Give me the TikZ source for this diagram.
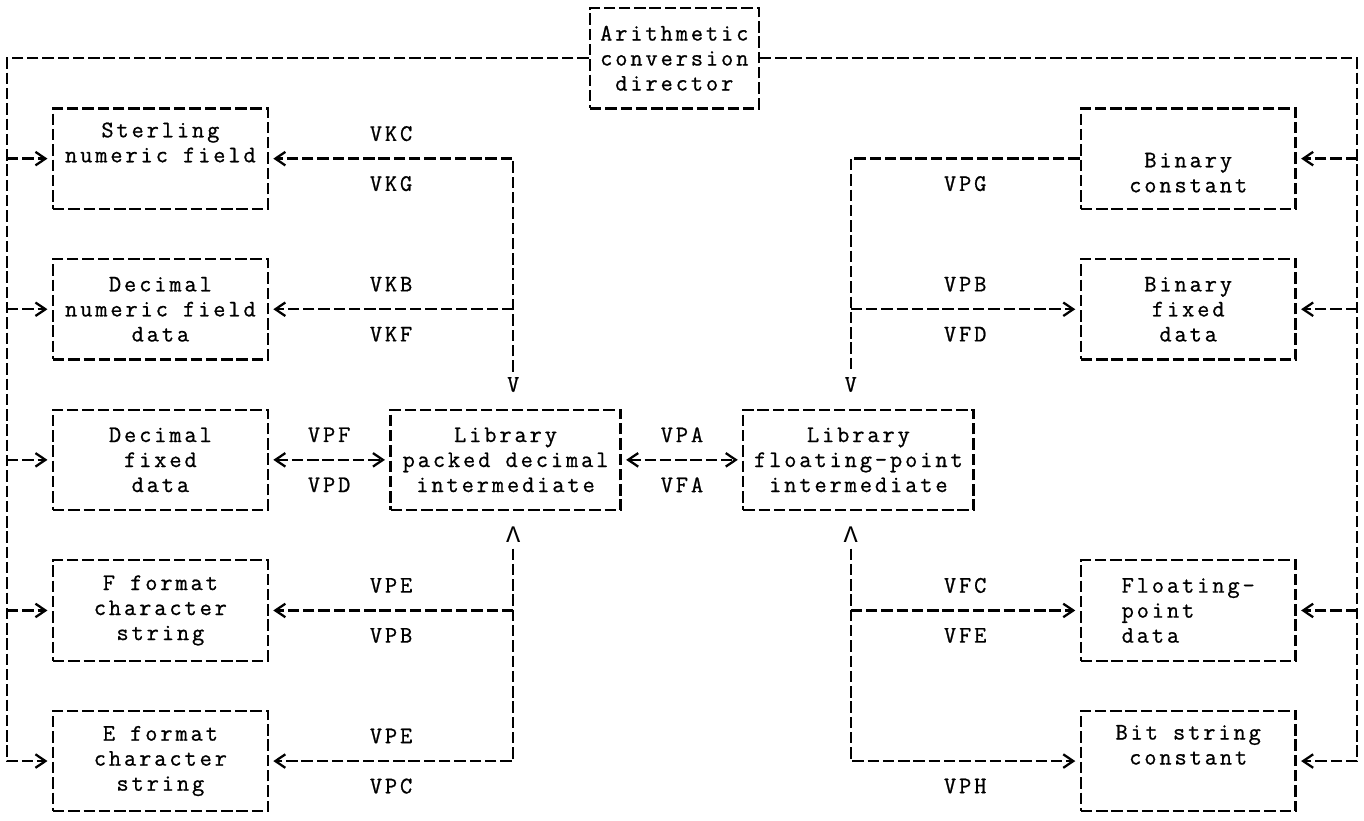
\documentclass[tikz,border=0pt]{standalone}
\usepackage{fontspec}
\setmonofont{Latin Modern Mono}[LetterSpace=12.2,FakeBold=0.8]
\newfontfamily\greekmono{Liberation Mono}
\usetikzlibrary{arrows.meta}

\tikzset{
  flow/.style={line width=1.3pt,dash pattern=on 6.5pt off 2.2pt},
  into/.style={shorten >=2.5pt},
  both/.style={shorten >=2.5pt,shorten <=2.5pt},
  cbox/.style={draw,flow,inner sep=0pt,minimum height=2.008cm,align=center},
  lbl/.style={inner sep=1pt},
  tipglyph/.style={inner sep=3pt},
  lblup/.style={lbl,yshift=14.23pt},
  lbldn/.style={lbl,yshift=-14.23pt},
}

\begin{document}
\begin{tikzpicture}[x=0.3068cm,y=-0.502cm,>={Straight Barb[length=0.2cm,width=0.27cm]},
  font=\ttfamily\fontsize{13.5}{14.23}\selectfont]
\useasboundingbox (-0.456,-0.32) rectangle (88.46,32.35);
\node[cbox,minimum width=3.375cm] (arith) at (43.5,2) {Arithmetic\\conversion\\director};
\node[cbox,minimum width=4.295cm] (sterl) at (10,6) {Sterling\\numeric field\\\strut};
\node[cbox,minimum width=4.295cm] (dnum) at (10,12) {Decimal\\numeric field\\data};
\node[cbox,minimum width=4.295cm] (decf) at (10,18) {Decimal\\fixed\\data};
\node[cbox,minimum width=4.295cm] (ffmt) at (10,24) {F format\\character\\string};
\node[cbox,minimum width=4.295cm] (efmt) at (10,30) {E format\\character\\string};
\node[cbox,minimum width=4.602cm] (packd) at (32.5,18) {Library\\packed decimal\\intermediate};
\node[cbox,minimum width=4.602cm] (fltp) at (55.5,18) {Library\\floating-point\\intermediate};
\node[cbox,minimum width=4.295cm] (binc) at (77,6) {\strut\\Binary\\constant};
\node[cbox,minimum width=4.295cm] (binf) at (77,12) {Binary\\fixed\\data};
\node[cbox,minimum width=4.295cm,align=left] (fltd) at (77,24) {Floating-\\point\\data};
\node[cbox,minimum width=4.295cm] (bits) at (77,30) {Bit string\\constant\\\strut};
% arrow glyphs above and below the intermediates
\node[tipglyph] (vdec) at (33,15) {V};
\node[tipglyph] (updec) at (33,21) {\greekmono Λ};
\node[tipglyph] (vflt) at (55,15) {V};
\node[tipglyph] (upflt) at (55,21) {\greekmono Λ};
\coordinate (lbot) at (0,30);
\coordinate (rbot) at (88,30);
% director trunks
\draw[flow,->,into] (arith) -| (lbot) -- (efmt);
\draw[flow,->,into] (lbot |- sterl) -- (sterl);
\draw[flow,->,into] (lbot |- dnum) -- (dnum);
\draw[flow,->,into] (lbot |- decf) -- (decf);
\draw[flow,->,into] (lbot |- ffmt) -- (ffmt);
\draw[flow,->,into] (arith) -| (rbot) -- (bits);
\draw[flow,->,into] (rbot |- binc) -- (binc);
\draw[flow,->,into] (rbot |- binf) -- (binf);
\draw[flow,->,into] (rbot |- fltd) -- (fltd);
% packed decimal side
\draw[flow,->,into] (vdec) |- (sterl) node[pos=0.75,lblup] (vkc) {VKC} node[pos=0.75,lbldn] (vkg) {VKG};
\draw[flow,->,into] (vdec |- dnum) -- (dnum) node[midway,lblup] (vkb) {VKB} node[midway,lbldn] (vkf) {VKF};
\draw[flow,->,into] (updec |- ffmt) -- (ffmt) node[midway,lblup] (vpea) {VPE} node[midway,lbldn] (vpba) {VPB};
\draw[flow,->,into] (updec) |- (efmt) node[pos=0.75,lblup] (vpeb) {VPE} node[pos=0.75,lbldn] (vpc) {VPC};
\draw[flow,<->,both] (decf) -- (packd) node[midway,lblup] (vpf) {VPF} node[midway,lbldn] (vpd) {VPD};
\draw[flow,<->,both] (packd) -- (fltp) node[midway,lblup] (vpa) {VPA} node[midway,lbldn] (vfa) {VFA};
% floating-point side
\draw[flow] (binc) -| (vflt) node[pos=0.25,lbldn] (vpg) {VPG};
\draw[flow,->,into] (vflt |- binf) -- (binf) node[midway,lblup] (vpbb) {VPB} node[midway,lbldn] (vfd) {VFD};
\draw[flow,->,into] (upflt |- fltd) -- (fltd) node[midway,lblup] (vfc) {VFC} node[midway,lbldn] (vfe) {VFE};
\draw[flow,->,into] (upflt) |- (bits) node[pos=0.75,lbldn] (vph) {VPH};
\end{tikzpicture}
\end{document}
